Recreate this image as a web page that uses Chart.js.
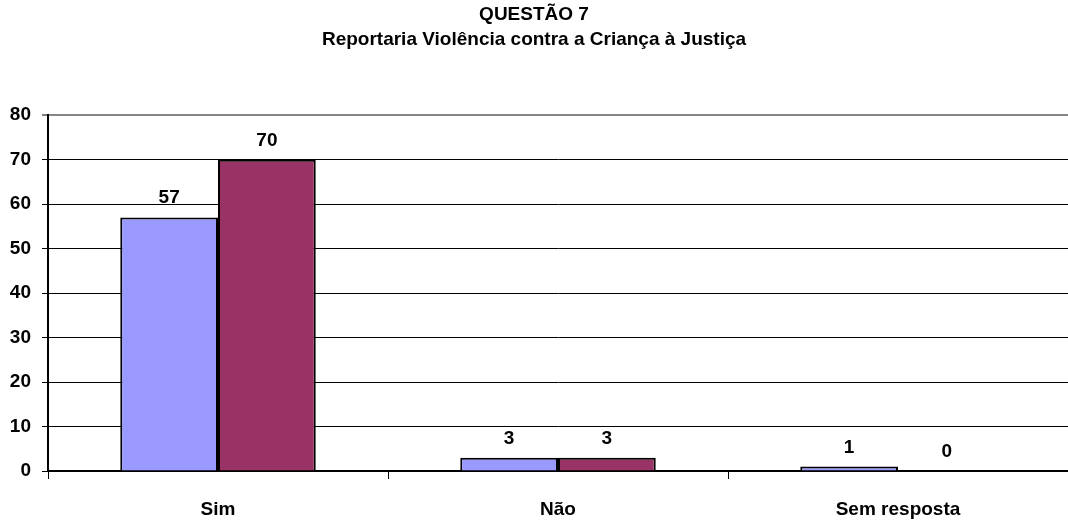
<!DOCTYPE html>
<html>
<head>
<meta charset="utf-8">
<script src="https://cdn.jsdelivr.net/npm/chart.js@4/dist/chart.umd.min.js"></script>
<style>
  html, body { margin: 0; padding: 0; background: #fff; }
  #wrap { width: 1068px; height: 524px; }
</style>
</head>
<body>
<div id="wrap"><canvas id="myChart" width="1068" height="524"></canvas></div>
<script>
const categories = ["Sim", "Não", "Sem resposta"];
const serieA = [57, 3, 1];
const serieB = [70, 3, 0];
const yTicks = [0, 10, 20, 30, 40, 50, 60, 70, 80];
const titleLines = ["QUESTÃO 7", "Reportaria Violência contra a Criança à Justiça"];

const FONT = "'Liberation Sans', Arial, sans-serif";

// numbers above each bar
const valueLabels = {
  id: "valueLabels",
  afterDatasetsDraw(chart) {
    const ctx = chart.ctx;
    ctx.save();
    ctx.font = "bold 19px " + FONT;
    ctx.fillStyle = "#000";
    ctx.textAlign = "center";
    ctx.textBaseline = "alphabetic";
    chart.data.datasets.forEach((ds, i) => {
      chart.getDatasetMeta(i).data.forEach((bar, j) => {
        ctx.fillText(String(ds.data[j]), bar.x, bar.y - 14);
      });
    });
    ctx.restore();
  },
};

const ctx = document.getElementById("myChart");
const myChart = new Chart(ctx, {
  type: "bar",
  data: {
    labels: categories,
    datasets: [
      {
        data: serieA,
        backgroundColor: "#9999ff",
        borderColor: "#000",
        borderWidth: 2,
      },
      {
        data: serieB,
        backgroundColor: "#993366",
        borderColor: "#000",
        borderWidth: 2,
      },
    ],
  },
  options: {
    responsive: false,
    animation: false,
    events: [],
    layout: { padding: { left: 0, right: 0, top: 0, bottom: 0 } },
    datasets: {
      bar: { barPercentage: 1, categoryPercentage: 0.575 },
    },
    plugins: {
      legend: { display: false },
      tooltip: { enabled: false },
      title: {
        display: true,
        text: titleLines,
        color: "#000",
        font: { family: FONT, size: 19, weight: "bold", lineHeight: 1.32 },
        padding: { top: 2, bottom: 63 },
      },
    },
    scales: {
      x: {
        grid: {
          offset: true,
          drawOnChartArea: false,
          tickLength: 8,
          tickColor: "#000",
          tickWidth: 1,
        },
        border: { color: "#000", width: 2 },
        ticks: {
          color: "#000",
          padding: 19,
          font: { family: FONT, size: 19, weight: "bold" },
        },
        afterFit(scale) {
          scale.height = 53;
        },
      },
      y: {
        min: 0,
        max: 80,
        afterBuildTicks(scale) {
          scale.ticks = yTicks.map((v) => ({ value: v }));
        },
        grid: {
          color: (c) => (c.tick && c.tick.value === 80 ? "#868686" : "#000"),
          lineWidth: (c) => (c.tick && c.tick.value === 80 ? 2 : 1),
          tickLength: 6,
          tickColor: "#000",
          tickWidth: 1,
        },
        border: { color: "#000", width: 2 },
        ticks: {
          color: "#000",
          padding: 11,
          font: { family: FONT, size: 19, weight: "bold" },
        },
        afterFit(scale) {
          scale.width = 48;
        },
      },
    },
  },
  plugins: [valueLabels],
});
</script>
</body>
</html>
